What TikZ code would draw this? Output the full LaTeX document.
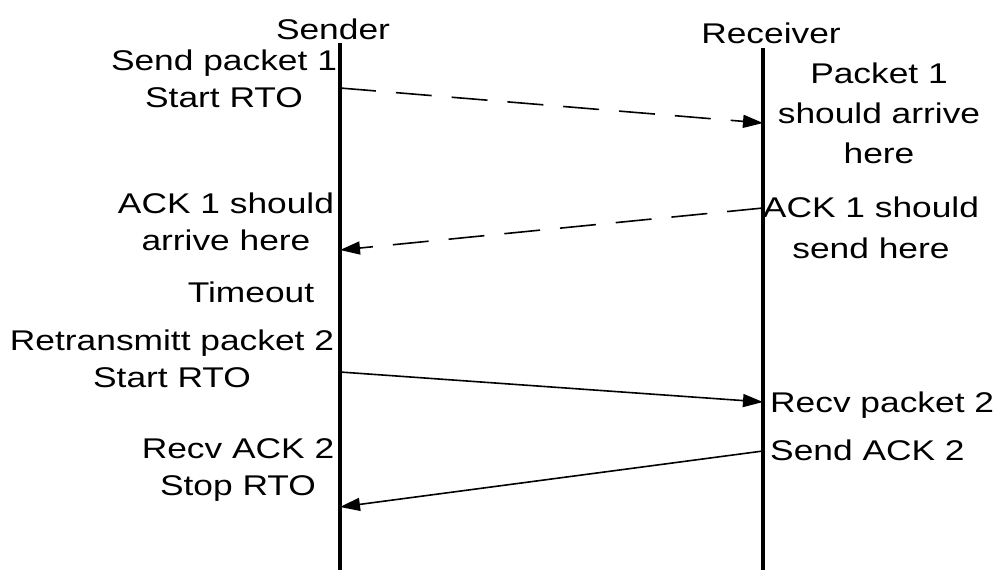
\documentclass[tikz,border=0pt]{standalone}
\usepackage{fontspec}
\newfontfamily\widesans[FakeStretch=1.24]{Liberation Sans}
\usetikzlibrary{arrows.meta}
\tikzset{
  lifeline/.style={line width=3.5pt, line cap=butt},
  msg/.style={line width=1.6pt, -{Triangle[length=20pt,width=13pt]}},
  lostmsg/.style={msg, dash pattern=on 36pt off 20pt},
  lbl/.style={inner sep=0pt, align=center, anchor=base,
    font=\widesans\fontsize{28.5}{37}\selectfont},
}
\begin{document}
\begin{tikzpicture}[x=1pt,y=-1pt]
\useasboundingbox (0,0) rectangle (997,570);

% lifelines
\coordinate (stop) at (340,43);
\coordinate (sbot) at (340,570);
\coordinate (rtop) at (763,48);
\coordinate (rbot) at (763,570);
\draw[lifeline] (stop) -- (sbot);
\draw[lifeline] (rtop) -- (rbot);

\node[lbl] (sender) at (333,39) {Sender};
\node[lbl] (receiver) at (771,43) {Receiver};

% message end points
\coordinate (s1) at (340,88);
\coordinate (r1) at (763,123);
\coordinate (r2) at (763,208);
\coordinate (s2) at (340,250);
\coordinate (s3) at (340,372);
\coordinate (r3) at (763,402);
\coordinate (r4) at (763,451);
\coordinate (s4) at (340,507);

\draw[lostmsg] (s1) -- (r1);
\draw[lostmsg] (r2) -- (s2);
\draw[msg] (s3) -- (r3);
\draw[msg] (r4) -- (s4);

% sender side notes (placed by the baseline of their last line)
\node[lbl] (l1) at (224,107) {Send packet 1\\Start RTO};
\node[lbl] (l2) at (226,250) {ACK 1 should\\arrive here};
\node[lbl] (l3) at (251,302) {Timeout};
\node[lbl] (l4) at (172,387) {Retransmitt packet 2\\Start RTO};
\node[lbl] (l5) at (238,495) {Recv ACK 2\\Stop RTO};

% receiver side notes
\node[lbl, font=\widesans\fontsize{28.5}{40}\selectfont] (n1) at (879,163) {Packet 1\\should arrive\\here};
\node[lbl, font=\widesans\fontsize{28.5}{41}\selectfont] (n2) at (871,258) {ACK 1 should\\send here};
\node[lbl, anchor=base west] (n3) at (770,412) {Recv packet 2};
\node[lbl, anchor=base west] (n4) at (770,460) {Send ACK 2};
\end{tikzpicture}
\end{document}
